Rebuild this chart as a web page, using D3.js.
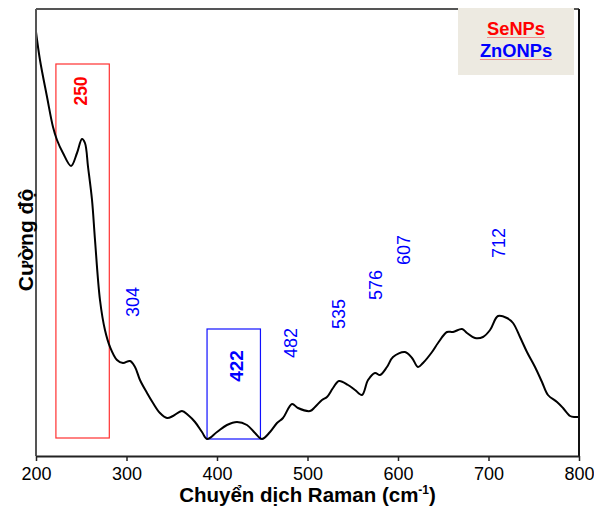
<!DOCTYPE html>
<html>
<head>
<meta charset="utf-8">
<script src="https://cdn.jsdelivr.net/npm/d3@7"></script>
<style>
  body { margin: 0; background: #fff; }
  text { font-family: "Liberation Sans", Arial, sans-serif; }
</style>
</head>
<body>
<div id="vis"></div>
<script>
// Raman shift (cm-1) and intensity (a.u.)
var ramanShift = [200, 204.4, 212.2, 218.8, 223.2, 229.8, 238.7, 245.3, 250.8, 254.1, 257.5, 261.9, 265.2,
    270.7, 276.2, 281.8, 289.5, 296.1, 303.9, 309.4, 314.9, 322.7, 329.3, 337, 344.8, 351.4, 361.3, 368,
    375.7, 383.4, 389, 400, 411, 422.1, 433.1, 442, 449.7, 458.6, 466.3, 472.9, 482.9, 489.5, 502.8, 508.3,
    516, 521.5, 528.2, 534.8, 544.8, 552.5, 560.2, 566.9, 574.6, 580.1, 587.8, 594.5, 607.7, 615.5, 622.1,
    627.6, 637.6, 644.2, 654.1, 660.8, 670.7, 676.2, 685.1, 693.9, 701.7, 710.5, 720.4, 727.1, 734.8, 742.5,
    751.4, 759.1, 765.7, 775.7, 782.3, 790.1, 795.6, 800];
var intensity = [424, 396, 359, 329, 316, 303, 290, 303, 317, 313, 289, 256, 216,
    156, 126, 109, 96, 93, 95, 89, 76, 63, 53, 43, 38, 40, 45, 41,
    34, 24, 17, 24, 31, 34, 31, 23, 17, 24, 33, 38, 52, 48, 45, 49,
    56, 59, 68, 75, 71, 66, 61, 76, 83, 81, 89, 99, 104, 98, 89,
    93, 104, 113, 124, 124, 127, 123, 118, 119, 126, 140, 138, 133, 119, 104,
    89, 74, 61, 54, 48, 40, 39, 39];

var xTicks = [200, 300, 400, 500, 600, 700, 800];

// SeNPs peak (red) and ZnONPs peaks (blue)
var sePeaks = [250];
var znoPeaks = [304, 422, 482, 535, 576, 607, 712];
var znoLabelLevel = [154, 90, 113, 142, 171, 206, 213];
var znoBold = [false, true, false, false, false, false, false];

// highlighted bands: [from, to, bottom, top]
var seBand = [222, 281, 18, 392];
var znoBand = [389, 448, 17, 127];

var legendNames = ['SeNPs', 'ZnONPs'];
var legendColors = ['#ff0000', '#0000ff'];

var margin = {left: 36, top: 9, right: 15, bottom: 52};
var width = 594, height = 508;
var drawWidth = width - margin.left - margin.right;
var drawHeight = height - margin.top - margin.bottom;

var svg = d3.select('#vis').append('svg')
    .attr('width', width)
    .attr('height', height);

var g = svg.append('g')
    .attr('transform', `translate(${margin.left}, ${margin.top})`);

var xScale = d3.scaleLinear().domain([200, 800]).range([0, drawWidth]);
var yScale = d3.scaleLinear().domain([0, 447]).range([drawHeight, 0]);

g.append('clipPath').attr('id', 'clip')
    .append('rect').attr('width', drawWidth).attr('height', drawHeight);

// bands
g.append('rect')
    .attr('x', xScale(seBand[0]))
    .attr('y', yScale(seBand[3]))
    .attr('width', xScale(seBand[1]) - xScale(seBand[0]))
    .attr('height', yScale(seBand[2]) - yScale(seBand[3]))
    .attr('fill', 'none')
    .attr('stroke', '#ff3030')
    .attr('stroke-width', 1.2);

g.append('rect')
    .attr('x', xScale(znoBand[0]))
    .attr('y', yScale(znoBand[3]))
    .attr('width', xScale(znoBand[1]) - xScale(znoBand[0]))
    .attr('height', yScale(znoBand[2]) - yScale(znoBand[3]))
    .attr('fill', 'none')
    .attr('stroke', '#1010ff')
    .attr('stroke-width', 1.2);

// spectrum
var points = ramanShift.map((d, i) => [d, intensity[i]]);
var line = d3.line()
    .x(d => xScale(d[0]))
    .y(d => yScale(d[1]))
    .curve(d3.curveCatmullRom.alpha(0.5));

g.append('path')
    .datum(points)
    .attr('clip-path', 'url(#clip)')
    .attr('d', line)
    .attr('fill', 'none')
    .attr('stroke', '#000')
    .attr('stroke-width', 2);

// peak labels
g.selectAll('.se-label').data(sePeaks).enter()
    .append('text')
    .attr('transform', d => `translate(${xScale(d)}, ${yScale(365)}) rotate(-90)`)
    .attr('text-anchor', 'middle')
    .attr('dominant-baseline', 'central')
    .attr('font-size', 17.5)
    .attr('font-weight', 'bold')
    .attr('fill', '#ff0000')
    .text(d => d);

g.selectAll('.zno-label').data(znoPeaks).enter()
    .append('text')
    .attr('transform', (d, i) => `translate(${xScale(d) + (i == 0 ? 3 : 0)}, ${yScale(znoLabelLevel[i])}) rotate(-90)`)
    .attr('text-anchor', 'middle')
    .attr('dominant-baseline', 'central')
    .attr('font-size', (d, i) => znoBold[i] ? 19 : 18)
    .attr('font-weight', (d, i) => znoBold[i] ? 'bold' : 'normal')
    .attr('fill', '#0000ff')
    .text(d => d);

// frame
g.append('line').attr('x1', 0).attr('x2', drawWidth).attr('y1', 0).attr('y2', 0)
    .attr('stroke', '#555').attr('stroke-width', 2);
g.append('line').attr('x1', drawWidth).attr('x2', drawWidth).attr('y1', 0).attr('y2', drawHeight)
    .attr('stroke', '#111').attr('stroke-width', 2);
g.append('line').attr('x1', 0).attr('x2', 0).attr('y1', 0).attr('y2', drawHeight)
    .attr('stroke', '#555').attr('stroke-width', 2);

// x axis
var xAxis = d3.axisBottom(xScale).tickValues(xTicks).tickSize(5).tickSizeOuter(0).tickPadding(6);
var xAxisG = g.append('g')
    .attr('transform', `translate(0, ${drawHeight})`)
    .call(xAxis);
xAxisG.select('.domain').attr('stroke', '#222').attr('stroke-width', 2);
xAxisG.selectAll('.tick line').attr('stroke', '#222').attr('stroke-width', 1.5);
xAxisG.selectAll('.tick text')
    .attr('font-family', '"Liberation Sans", Arial, sans-serif')
    .attr('font-size', 18)
    .attr('fill', '#000');

// axis titles
var xTitle = svg.append('text')
    .attr('x', margin.left + drawWidth / 2)
    .attr('y', 502)
    .attr('text-anchor', 'middle')
    .attr('font-size', 20.5)
    .attr('font-weight', 'bold');
xTitle.append('tspan').text('Chuyển dịch Raman (cm');
xTitle.append('tspan').attr('dy', -8).attr('font-size', 12).text('-1');
xTitle.append('tspan').attr('dy', 8).text(')');

svg.append('text')
    .attr('transform', `translate(33, 240) rotate(-90)`)
    .attr('text-anchor', 'middle')
    .attr('font-size', 21)
    .attr('font-weight', 'bold')
    .text('Cường độ');

// legend
var legend = svg.append('g').attr('transform', 'translate(458, 8)');
legend.append('rect')
    .attr('width', 116)
    .attr('height', 67)
    .attr('fill', '#edeae1');
legendNames.forEach((name, i) => {
    var t = legend.append('text')
        .attr('x', 58)
        .attr('y', 27 + i * 22)
        .attr('text-anchor', 'middle')
        .attr('font-size', 18.3)
        .attr('font-weight', 'bold')
        .attr('fill', legendColors[i])
        .text(name);
    var w = t.node().getComputedTextLength();
    legend.append('line')
        .attr('x1', 58 - w / 2).attr('x2', 58 + w / 2)
        .attr('y1', 29.5 + i * 22).attr('y2', 29.5 + i * 22)
        .attr('stroke', '#f08a8a')
        .attr('stroke-width', 1);
});
</script>
</body>
</html>
